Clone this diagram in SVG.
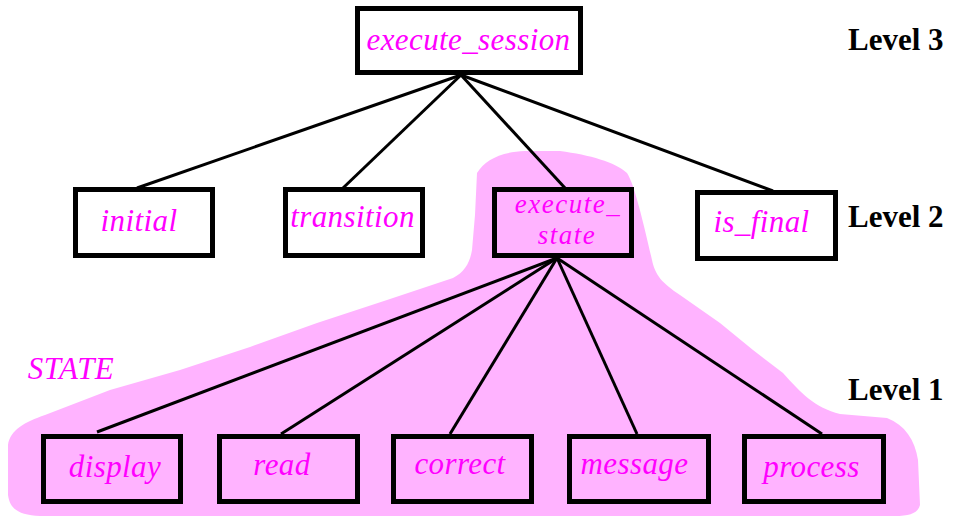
<svg xmlns="http://www.w3.org/2000/svg" width="959" height="517" viewBox="0 0 959 517">
<style>
.box{fill:none;stroke:#000;stroke-width:5}
.lbl{font-family:"Liberation Serif","Times New Roman",serif;font-style:italic;font-size:31px;fill:#ff00ff;text-anchor:middle;letter-spacing:0.4px}
.sm{font-size:27px;letter-spacing:1.5px}
.lvl{font-family:"Liberation Serif","Times New Roman",serif;font-weight:bold;font-size:31px;fill:#000}
.ln{stroke:#000;stroke-width:3;fill:none}
</style>
<rect width="959" height="517" fill="#fff"/>
<g id="state-region">
<path d="M 477,173 C 485,160 500,152 525,151 L 560,151 C 590,155 615,162 627,173 C 635,185 645,230 652,260 C 655,275 662,283 680,295 L 720,323 L 753,350 L 783,373 C 800,392 815,408 840,414 L 887,418 C 905,425 915,440 918,460 L 920,505 C 918,513 910,516 895,516 L 40,516 C 20,515 10,510 8,495 L 8,445 C 10,430 25,422 45,415 L 110,390 L 180,370 L 250,347 L 317,323 L 387,300 L 453,278 C 465,272 470,262 472,250 L 475,215 Z" fill="#ffb3ff"/>
<text class="lbl" x="71" y="379">STATE</text>
</g>
<g id="connectors">
<line class="ln" x1="461" y1="75" x2="137" y2="188"/>
<line class="ln" x1="461" y1="75" x2="343" y2="188" stroke-width="1.5"/>
<line class="ln" x1="461" y1="75" x2="565" y2="188"/>
<line class="ln" x1="461" y1="75" x2="773" y2="191"/>
<line class="ln" x1="557" y1="258" x2="97" y2="432"/>
<line class="ln" x1="557" y1="258" x2="281" y2="434"/>
<line class="ln" x1="557" y1="258" x2="450" y2="434"/>
<line class="ln" x1="557" y1="258" x2="637" y2="434"/>
<line class="ln" x1="557" y1="258" x2="822" y2="434"/>
</g>
<g id="execute_session"><rect class="box" x="357.5" y="8.5" width="223" height="64" style="fill:#fff"/><text class="lbl" x="468.5" y="50">execute_session</text></g>
<g id="initial"><rect class="box" x="75.5" y="189.5" width="137" height="66" style="fill:#fff"/><text class="lbl" x="139" y="231">initial</text></g>
<g id="transition"><rect class="box" x="285.5" y="189.5" width="137" height="66" style="fill:#fff"/><text class="lbl" x="352.5" y="227">transition</text></g>
<g id="execute_state"><rect class="box" x="494.5" y="189.5" width="137" height="66"/><text class="lbl sm" x="568" y="213">execute_</text><text class="lbl sm" x="567" y="244">state</text></g>
<g id="is_final"><rect class="box" x="697.5" y="192.5" width="138" height="66" style="fill:#fff"/><text class="lbl" x="761.5" y="232">is_final</text></g>
<g id="display"><rect class="box" x="43.5" y="436.5" width="137" height="65"/><text class="lbl" x="115" y="477">display</text></g>
<g id="read"><rect class="box" x="219.5" y="436.5" width="138" height="65"/><text class="lbl" x="282" y="475">read</text></g>
<g id="correct"><rect class="box" x="393.5" y="436.5" width="138" height="65"/><text class="lbl" x="460" y="474">correct</text></g>
<g id="message"><rect class="box" x="569.5" y="436.5" width="139" height="65"/><text class="lbl" x="634.5" y="474">message</text></g>
<g id="process"><rect class="box" x="744.5" y="436.5" width="139" height="65"/><text class="lbl" x="811.5" y="477">process</text></g>
<g id="levels">
<text class="lvl" x="848" y="50">Level 3</text>
<text class="lvl" x="848" y="227">Level 2</text>
<text class="lvl" x="848" y="400">Level 1</text>
</g>
</svg>
